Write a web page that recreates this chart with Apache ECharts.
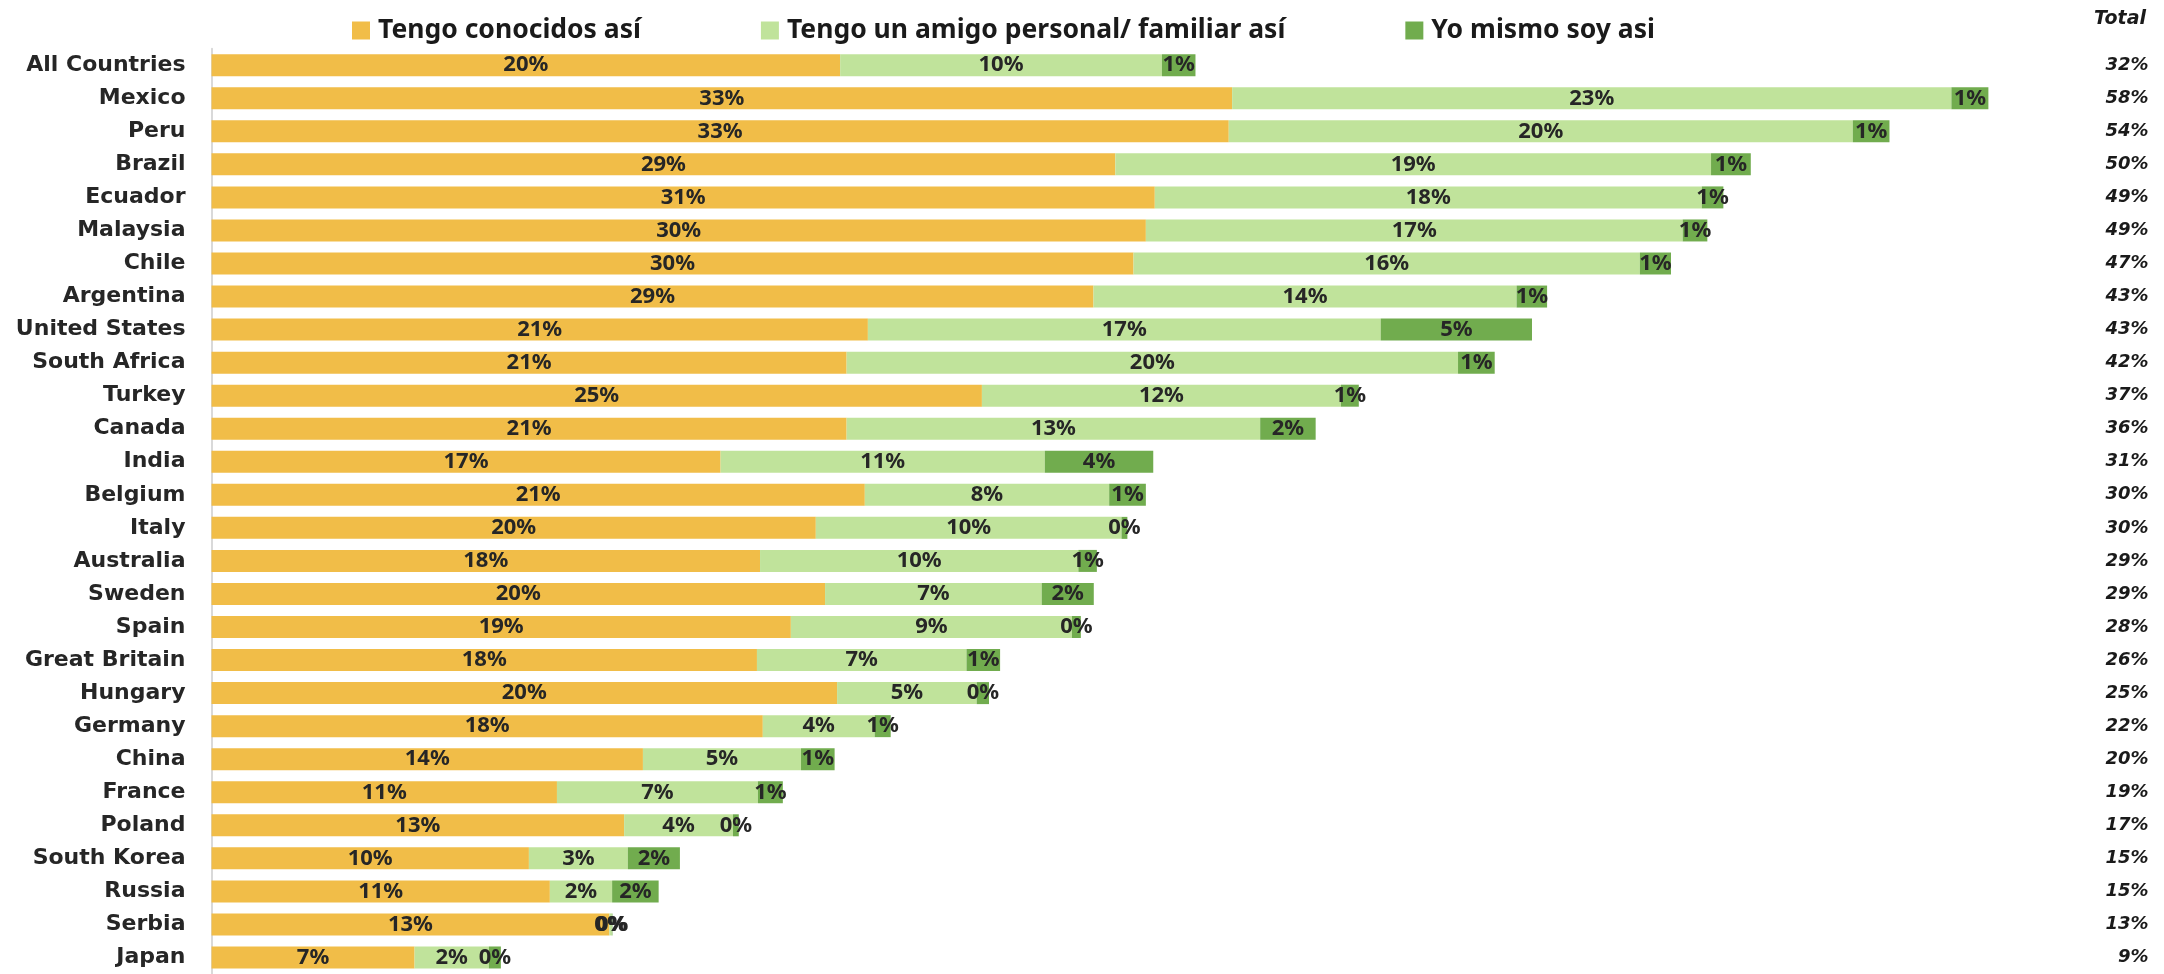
<!DOCTYPE html>
<html>
<head>
<meta charset="utf-8">
<script src="https://cdn.jsdelivr.net/npm/echarts@6/dist/echarts.min.js"></script>
<style>
  html, body { margin: 0; padding: 0; background: #fff; }
  #chart { width: 2164px; height: 974px; }
</style>
</head>
<body>
<div id="chart"></div>
<script>
// countries, top to bottom
const countries = ['All Countries', 'Mexico', 'Peru', 'Brazil', 'Ecuador', 'Malaysia', 'Chile', 'Argentina',
    'United States', 'South Africa', 'Turkey', 'Canada', 'India', 'Belgium', 'Italy', 'Australia', 'Sweden',
    'Spain', 'Great Britain', 'Hungary', 'Germany', 'China', 'France', 'Poland', 'South Korea', 'Russia',
    'Serbia', 'Japan'];

const seriesNames = ['Tengo conocidos así', 'Tengo un amigo personal/ familiar así', 'Yo mismo soy asi'];

// % values
const conocidos = [20.4, 33.12, 33.01, 29.33, 30.61, 30.32, 29.92, 28.62, 21.3, 20.61, 25.0, 20.61, 16.52, 21.2,
    19.61, 17.8, 19.91, 18.8, 17.7, 20.3, 17.89, 14.0, 11.21, 13.39, 10.3, 10.98, 12.91, 6.59];
const amigo = [10.44, 23.34, 20.25, 19.33, 17.75, 17.42, 16.43, 13.73, 16.64, 19.84, 11.65, 13.42, 10.52, 7.93,
    9.92, 10.33, 7.03, 9.12, 6.8, 4.53, 3.63, 5.13, 6.52, 3.53, 3.21, 2.02, 0.08, 2.41];
const yoMismo = [1.09, 1.2, 1.19, 1.29, 0.7, 0.8, 1.01, 0.99, 4.91, 1.19, 0.58, 1.8, 3.52, 1.19,
    0.19, 0.6, 1.69, 0.29, 1.09, 0.4, 0.52, 1.09, 0.81, 0.19, 1.69, 1.51, 0.02, 0.39];

// total column on the right
const totals = [32, 58, 54, 50, 49, 49, 47, 43, 43, 42, 37, 36, 31, 30, 30, 29, 29, 28, 26, 25, 22, 20, 19, 17,
    15, 15, 13, 9];

const colors = ['#F1BD48', '#C0E39B', '#71AC4E'];

const chart = echarts.init(document.getElementById('chart'));

const labelStyle = {
    show: true,
    position: 'inside',
    color: '#262626',
    fontFamily: 'Noto Sans',
    fontWeight: 'bold',
    fontSize: 22,
    formatter: p => Math.round(p.value) + '%'
};

const makeSeries = (name, data, i) => ({
    name: name,
    type: 'bar',
    stack: 'total',
    data: data,
    barWidth: 22,
    itemStyle: { color: colors[i] },
    label: labelStyle,
    emphasis: { disabled: true },
    animation: false
});

chart.setOption({
    title: {
        text: 'Total',
        right: 13,
        top: 5,
        textStyle: {
            fontFamily: 'DejaVu Sans',
            fontStyle: 'italic',
            fontWeight: 'bold',
            fontSize: 19,
            color: '#1a1a1a'
        }
    },
    legend: {
        data: seriesNames,
        left: 347,
        top: 12,
        icon: 'rect',
        itemWidth: 18,
        itemHeight: 18,
        itemGap: 120,
        textStyle: {
            fontFamily: 'Noto Sans',
            fontWeight: 'bold',
            fontSize: 26.5,
            color: '#1a1a1a',
            padding: [0, 0, 0, 3]
        }
    },
    grid: {
        left: 211.5,
        top: 48.7,
        width: 1849,
        height: 930.7,
        containLabel: false
    },
    xAxis: {
        type: 'value',
        min: 0,
        max: 60,
        show: false
    },
    yAxis: [
        {
            type: 'category',
            data: countries,
            inverse: true,
            axisLine: { lineStyle: { color: '#d9d9d9', width: 2 } },
            axisTick: { length: 8, lineStyle: { color: '#d9d9d9', width: 2 } },
            axisLabel: {
                margin: 26,
                color: '#262626',
                fontFamily: 'DejaVu Sans',
                fontWeight: 'bold',
                fontSize: 22
            }
        },
        {
            type: 'category',
            data: totals,
            inverse: true,
            position: 'right',
            axisLine: { show: false },
            axisTick: { show: false },
            axisLabel: {
                align: 'right',
                margin: 88,
                color: '#1a1a1a',
                fontFamily: 'DejaVu Sans',
                fontStyle: 'italic',
                fontWeight: 'bold',
                fontSize: 18,
                formatter: v => v + '%'
            }
        }
    ],
    series: [
        makeSeries(seriesNames[0], conocidos, 0),
        makeSeries(seriesNames[1], amigo, 1),
        makeSeries(seriesNames[2], yoMismo, 2)
    ]
});
</script>
</body>
</html>
